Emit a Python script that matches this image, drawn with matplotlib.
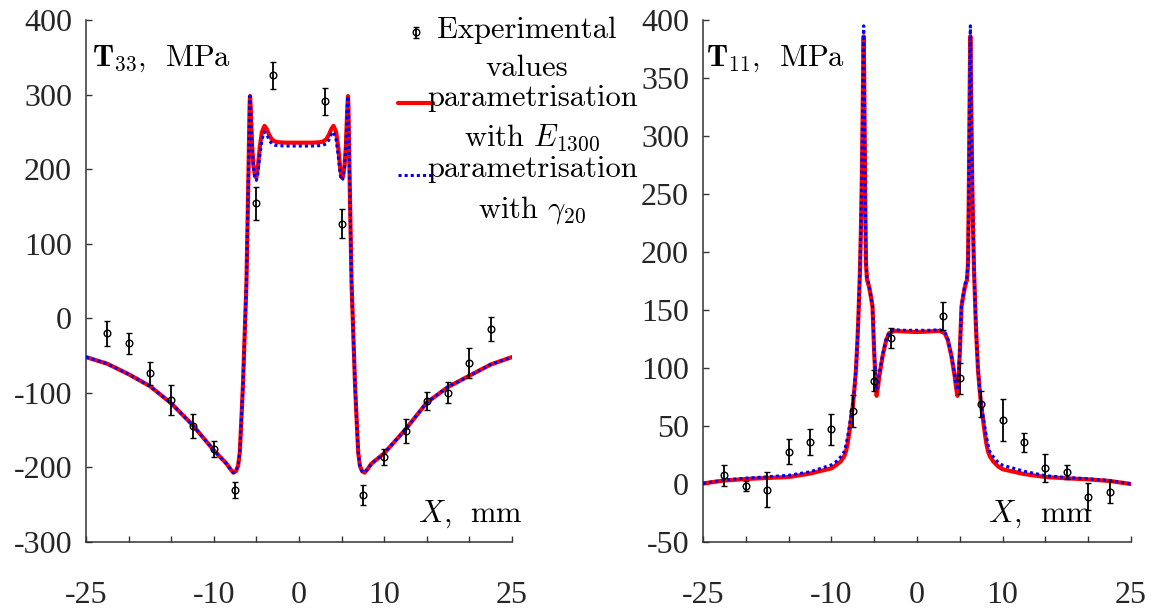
import numpy as np
import matplotlib
matplotlib.use("Agg")
import matplotlib.pyplot as plt
import matplotlib.transforms as mtransforms
from matplotlib.container import ErrorbarContainer
from matplotlib.lines import Line2D
from matplotlib.legend_handler import HandlerLine2D, HandlerErrorbar

plt.rcParams["font.family"] = "Liberation Serif"
plt.rcParams["mathtext.fontset"] = "cm"
plt.rcParams["axes.unicode_minus"] = False

# ---------------- data ----------------
x_ticks = [-25, -20, -15, -10, -5, 0, 5, 10, 15, 20, 25]
x_ticklabels = ["-25", "", "", "-10", "", "0", "", "10", "", "", "25"]
y_ticks_33 = [-300, -200, -100, 0, 100, 200, 300, 400]
y_ticks_11 = [-50, 0, 50, 100, 150, 200, 250, 300, 350, 400]

# experimental values (T33)
x_exp_33 = [-22.5, -20, -17.5, -15, -12.5, -10, -7.5, -5, -3,
            3, 5, 7.5, 10, 12.5, 15, 17.5, 20, 22.5]
T33_exp = [-20, -33.5, -74, -110, -144, -175, -230, 154, 326,
           291, 127, -237, -186, -151, -111, -100, -60, -14]
T33_err = [17, 14, 16, 20, 16, 11, 11, 22, 18,
           18, 20, 13, 11, 16, 12, 14, 20, 16]

# experimental values (T11)
x_exp_11 = [-22.5, -20, -17.5, -15, -12.5, -10, -7.5, -5, -3,
            3, 5, 7.5, 10, 12.5, 15, 17.5, 20, 22.5]
T11_exp = [7.5, -1.7, -5, 28, 36, 47, 63, 89, 126,
           145, 91, 69, 55, 36, 14, 10, -11, -7]
T11_err = [9, 4.3, 15, 11, 11, 13, 14, 9, 8.6,
           12, 13.6, 11.4, 18, 8, 12, 6, 11.5, 9.3]

# computed profiles, T33
x_33 = [-25, -22.5, -20, -17.5, -15, -12.5, -10, -8.5, -8.0, -7.7, -7.4, -7.15,
        -6.95, -6.84, -6.7, -6.57, -6.37, -6.17, -6.06, -5.97, -5.87, -5.8,
        -5.75, -5.68, -5.6, -5.5, -5.35, -5.15, -5.0, -4.85, -4.6, -4.35,
        -4.05, -3.8, -3.5, -3.2, -2.8, -2.4, -1.5, 0,
        1.5, 2.4, 2.8, 3.2, 3.5, 3.8, 4.05, 4.35, 4.6, 4.85, 5.0, 5.15, 5.35,
        5.5, 5.6, 5.68, 5.75, 5.8, 5.87, 5.97, 6.06, 6.17, 6.37, 6.57, 6.7,
        6.84, 6.95, 7.15, 7.4, 7.7, 8.0, 8.5, 10, 12.5, 15, 17.5, 20, 22.5, 25]
T33_E1300 = [-52, -61, -75, -91, -114, -143, -177, -195, -203, -207, -205, -198,
             -180, -154, -120, -87, -20, 47, 114, 170, 235, 285,
             298, 285, 260, 230, 205, 190, 189, 200, 230, 250,
             258, 254, 246, 240, 237, 236, 235.5, 235.5,
             235.5, 236, 237, 240, 246, 254, 258, 250, 230, 200, 189, 190, 205,
             230, 260, 285, 298, 285, 235, 170, 114, 47, -20, -87, -120,
             -154, -180, -198, -205, -207, -203, -195, -181, -149, -113, -92, -77, -62, -52]
T33_gamma20 = [-52, -61, -75, -91, -114, -143, -177, -195, -203, -207, -205, -198,
               -180, -154, -120, -87, -20, 47, 114, 170, 235, 285,
               298, 285, 260, 230, 203, 187, 185, 192, 218, 240,
               250, 247, 239, 234, 232, 231.5, 231, 231,
               231, 231.5, 232, 234, 239, 247, 250, 240, 218, 192, 185, 187, 203,
               230, 260, 285, 298, 285, 235, 170, 114, 47, -20, -87, -120,
               -154, -180, -198, -205, -207, -203, -195, -181, -149, -113, -92, -77, -62, -52]

# computed profiles, T11
x_11 = [-25, -22.5, -20, -17.5, -15, -12.5, -10, -9.5, -8.9, -8.5, -8.3, -8.1,
        -7.9, -7.7, -7.5, -7.3, -7.13, -6.95, -6.86, -6.75, -6.66, -6.55, -6.45,
        -6.38, -6.3, -6.23, -6.17, -6.1, -6.04, -5.96, -5.84, -5.6, -5.4, -5.2,
        -5.0, -4.85, -4.72, -4.55, -4.4, -4.0, -3.6, -3.25, -2.65, -1.5, 0,
        1.5, 2.65, 3.25, 3.6, 4.0, 4.4, 4.55, 4.72, 4.85, 5.0, 5.2, 5.4, 5.6,
        5.84, 5.96, 6.04, 6.1, 6.17, 6.23, 6.3, 6.38, 6.45, 6.55, 6.66, 6.75,
        6.86, 6.95, 7.13, 7.3, 7.5, 7.7, 7.9, 8.1, 8.3, 8.5, 8.9, 9.5, 10,
        12.5, 15, 17.5, 20, 22.5, 25]
T11_E1300 = [0.5, 3, 4.3, 5.2, 6, 9, 13.5, 16, 19.5, 24, 28, 35,
             45, 56, 67, 83, 98, 125, 141, 165, 185, 220, 260,
             300, 350, 386, 350, 290, 240, 190, 176, 170, 162, 153,
             113, 90, 76, 84, 93, 111, 124, 130, 132, 131.5, 131,
             131.5, 132, 130, 124, 111, 93, 84, 76, 90, 113, 153, 162, 170,
             176, 190, 240, 290, 350, 386, 350, 300, 260, 220, 185, 165,
             141, 125, 98, 83, 67, 56, 45, 35, 28, 24, 19.5, 15, 12.7,
             8.6, 6, 4.9, 4, 2.6, 0]
T11_gamma20 = [0.5, 3.5, 5, 6.2, 7.5, 10.5, 16.5, 19, 23.5, 28, 33.6, 41,
               50, 60, 70, 84, 99, 125, 141, 165, 185, 222, 265,
               305, 358, 395, 358, 295, 242, 191, 178, 172, 163, 154,
               115, 92, 81, 87, 95, 112, 125, 131, 133, 132.5, 132.5,
               132.5, 133, 131, 125, 112, 95, 87, 81, 92, 115, 154, 163, 172,
               178, 191, 242, 295, 358, 395, 358, 305, 265, 222, 185, 165,
               141, 125, 99, 84, 70, 60, 50, 41, 33.6, 28, 23.5, 18.5, 16.2,
               11, 7.2, 5.6, 4.5, 3, 0]

labels = [" Experimental \nvalues",
          "parametrisation\nwith $E_{1300}$",
          "parametrisation\nwith $\\gamma_{20}$"]


def raised(base, frac):
    # legend handler whose artist sits next to the first text line
    class Raised(base):
        def create_artists(self, legend, orig_handle, xdescent, ydescent,
                           width, height, fontsize, trans):
            arts = super().create_artists(legend, orig_handle, xdescent, ydescent,
                                          width, height, fontsize, trans)
            shift = mtransforms.Affine2D().translate(0, frac * fontsize) + trans
            for a in arts:
                a.set_transform(shift)
            return arts
    return Raised


def style_axes(ax, yticks):
    ax.set_xlim(-25, 25)
    ax.set_ylim(yticks[0], yticks[-1])
    ax.set_xticks(x_ticks)
    ax.set_xticklabels(x_ticklabels)
    ax.set_yticks(yticks)
    ax.set_yticklabels([str(v) for v in yticks])
    for s in ("top", "right"):
        ax.spines[s].set_visible(False)
    for s in ("left", "bottom"):
        ax.spines[s].set_color("#333333")
        ax.spines[s].set_linewidth(1.1)
    ax.tick_params(direction="in", length=4, width=1, color="#333333",
                   labelcolor="#262626", labelsize=23)
    ax.tick_params(axis="x", pad=28)
    ax.tick_params(axis="y", pad=10)


def draw(ax, x, red, blue, xe, ye, ee):
    h_red, = ax.plot(x, red, color="#ff0000", lw=3.0, solid_capstyle="round", zorder=2)
    h_blue, = ax.plot(x, blue, color="#0000ff", lw=2.2, linestyle=(0, (1, 1)), zorder=3)
    h_exp = ax.errorbar(xe, ye, yerr=ee, fmt="o", ms=4.8, mfc="none", mec="black",
                        mew=1.0, ecolor="black", elinewidth=1.3, capsize=2.5,
                        capthick=1.3, zorder=4)
    return h_exp, h_red, h_blue


fig = plt.figure(figsize=(11.62, 6.10), dpi=100)
ax1 = fig.add_axes([86 / 1162, 68 / 610, 426 / 1162, 522 / 610])
ax2 = fig.add_axes([703 / 1162, 68 / 610, 428 / 1162, 522 / 610])

h_exp, h_red, h_blue = draw(ax1, x_33, T33_E1300, T33_gamma20, x_exp_33, T33_exp, T33_err)
draw(ax2, x_11, T11_E1300, T11_gamma20, x_exp_11, T11_exp, T11_err)

style_axes(ax1, y_ticks_33)
style_axes(ax2, y_ticks_11)

ax1.text(0.014, 0.912, r"$\mathbf{T}_{33},\enspace\mathrm{MPa}$", transform=ax1.transAxes,
         fontsize=22, va="baseline", ha="left")
ax2.text(0.007, 0.912, r"$\mathbf{T}_{11},\enspace\mathrm{MPa}$", transform=ax2.transAxes,
         fontsize=22, va="baseline", ha="left")
ax1.text(0.779, 0.038, r"$X,\enspace\mathrm{mm}$", transform=ax1.transAxes,
         fontsize=22, va="baseline", ha="left", zorder=1)
ax2.text(0.666, 0.038, r"$X,\enspace\mathrm{mm}$", transform=ax2.transAxes,
         fontsize=22, va="baseline", ha="left", zorder=1)

lsp = 1.45
leg = ax1.legend([h_exp, h_red, h_blue], labels, loc="upper left",
                 bbox_to_anchor=(398 / 1162, 1 - 17 / 610), bbox_transform=fig.transFigure,
                 frameon=False, prop=dict(family="cmr10", size=22),
                 handlelength=1.15, handletextpad=-0.2, labelspacing=0.1,
                 borderpad=0, borderaxespad=0,
                 handler_map={ErrorbarContainer: raised(HandlerErrorbar, 0.55)(xerr_size=0.1, yerr_size=0.17, numpoints=1),
                              Line2D: raised(HandlerLine2D, 0.52)()})
for t in leg.get_texts():
    t.set_multialignment("center")
    t.set_linespacing(lsp)

fig.savefig("out.png", dpi=100)
